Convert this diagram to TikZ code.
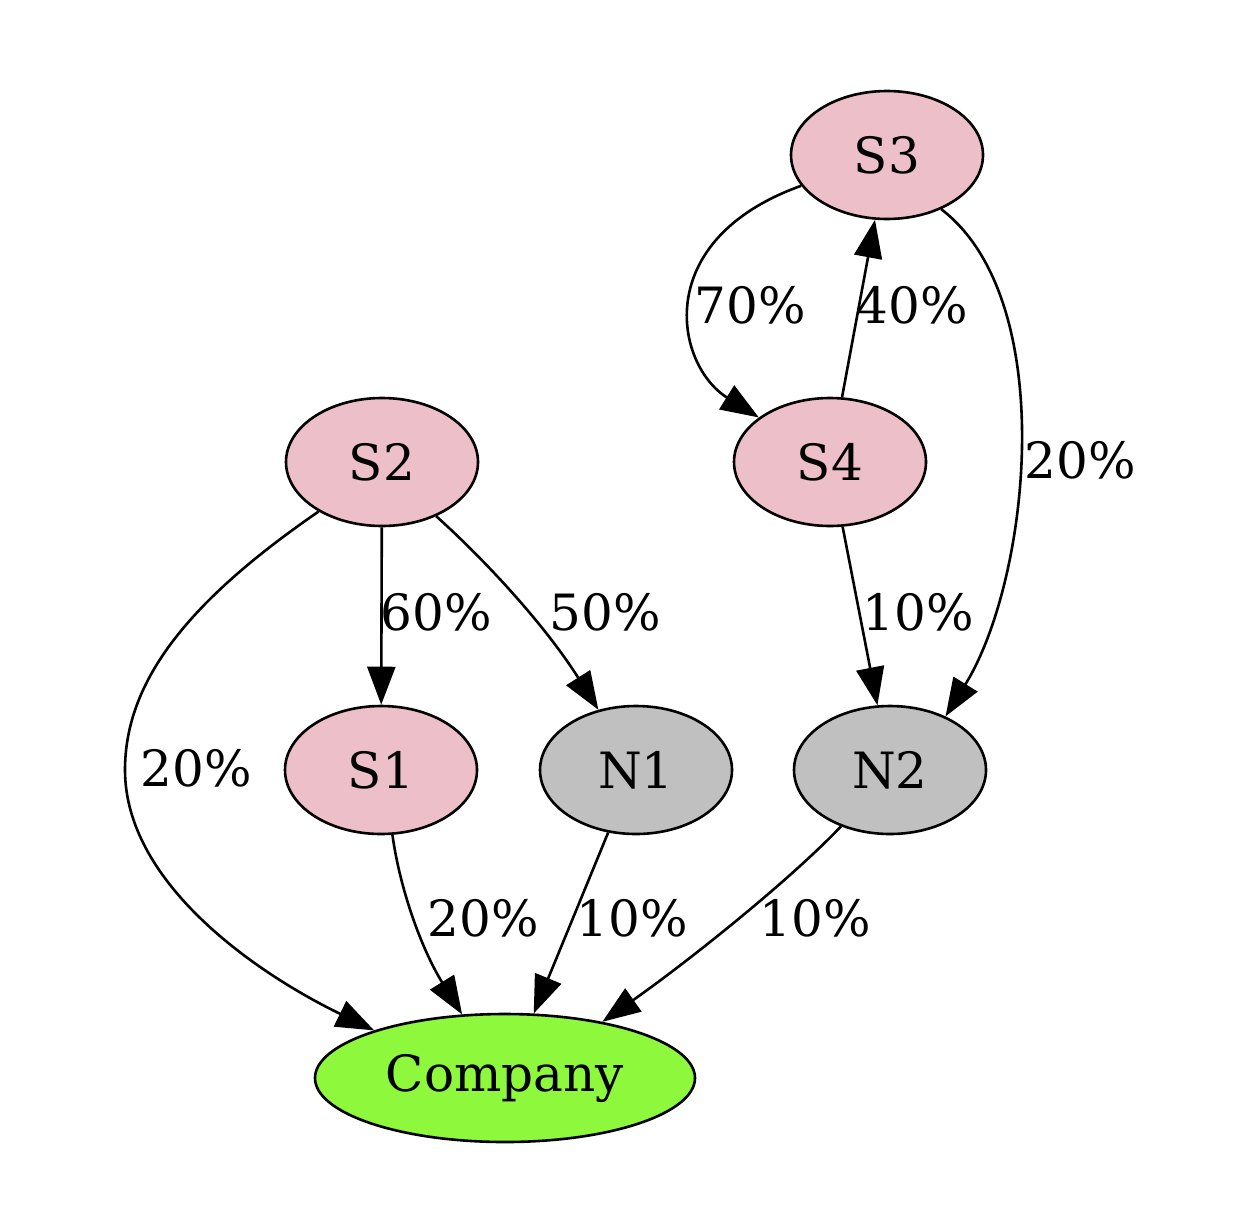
\documentclass[tikz,border=0pt]{standalone}
\usepackage{fontspec}
\setmainfont{DejaVu Serif}
\usetikzlibrary{shapes.geometric,arrows.meta}
\definecolor{pinkfill}{HTML}{EDBFC9}
\definecolor{grayfill}{HTML}{C0C0C0}
\definecolor{greenfill}{HTML}{8EF83C}
\tikzset{
  nd/.style={ellipse,draw=black,line width=1.3pt,inner sep=0pt,minimum width=96pt,minimum height=64pt,font=\fontsize{25}{30}\selectfont},
  pnode/.style={nd,fill=pinkfill},
  gnode/.style={nd,fill=grayfill},
  cnode/.style={nd,fill=greenfill,minimum width=190pt},
  edge/.style={draw=black,line width=1.3pt,-{Triangle[length=19pt,width=14pt]}},
  lbl/.style={inner sep=0pt,font=\fontsize{25}{30}\selectfont}
}
\begin{document}
\begin{tikzpicture}[x=0.5pt,y=-0.5pt]
\useasboundingbox (0,0) rectangle (1245,1220);
\node[pnode] (s3) at (887,155) {S3};
\node[pnode] (s4) at (830,462) {S4};
\node[pnode] (s2) at (382,462) {S2};
\node[pnode] (s1) at (381,770) {S1};
\node[gnode] (n1) at (636,770) {N1};
\node[gnode] (n2) at (890,770) {N2};
\node[cnode] (co) at (505,1078) {Company};

\draw[edge] (s3) .. controls (650,240) and (675,365) .. (s4);
\draw[edge] (s4) -- (s3);
\draw[edge] (s3.-45) .. controls (1060,300) and (1030,580) .. (n2.44);
\draw[edge] (s4) -- (n2);
\draw[edge] (s2) -- (s1);
\draw[edge] (s2.-45) .. controls (485,560) and (545,625) .. (n1.122);
\draw[edge] (s2.218) .. controls (190,600) and (125,680) .. (125,770) .. controls (125,880) and (250,970) .. (co.160);
\draw[edge] (s1.-80) .. controls (400,890) and (422,950) .. (co.124);
\draw[edge] (n1.246.7) -- (co.66);
\draw[edge] (n2.229) .. controls (790,880) and (690,960) .. (co.30.5);

\node[lbl] (l1) at (750,305) {70\%};
\node[lbl] (l2) at (912,305) {40\%};
\node[lbl] (l3) at (1080,460) {20\%};
\node[lbl] (l4) at (918,612) {10\%};
\node[lbl] (l5) at (436,612) {60\%};
\node[lbl] (l6) at (605,612) {50\%};
\node[lbl] (l7) at (196,768) {20\%};
\node[lbl] (l8) at (483,918) {20\%};
\node[lbl] (l9) at (632,918) {10\%};
\node[lbl] (l10) at (815,918) {10\%};
\end{tikzpicture}
\end{document}
